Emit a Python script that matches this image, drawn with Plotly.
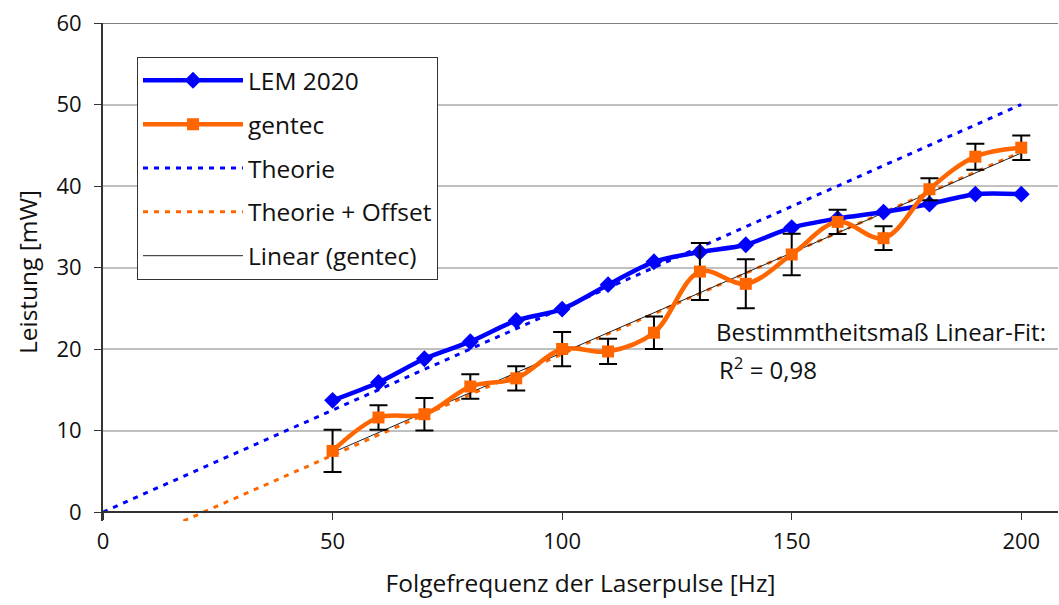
import numpy as np
import plotly.graph_objects as go

# ---- data ----
freq = [50, 60, 70, 80, 90, 100, 110, 120, 130, 140, 150, 160, 170, 180, 190, 200]
lem2020 = [13.7, 15.9, 18.8, 20.9, 23.5, 24.9, 27.9, 30.7, 31.9, 32.8, 34.9, 36.0, 36.8, 37.8, 39.0, 39.0]
gentec = [7.5, 11.6, 12.0, 15.4, 16.4, 20.0, 19.7, 22.0, 29.5, 28.0, 31.6, 35.6, 33.6, 39.6, 43.6, 44.7]
gentec_err = [2.6, 1.5, 2.0, 1.5, 1.5, 2.1, 1.55, 2.0, 3.5, 3.0, 2.55, 1.5, 1.45, 1.35, 1.6, 1.5]

theorie_x = [0, 200]
theorie_y = [0, 50]
offset_x = [17.5, 200]
offset_y = [-1.1, 44.2]

x_ticks = [0, 50, 100, 150, 200]
y_ticks = [0, 10, 20, 30, 40, 50, 60]

# linear trend of gentec
slope, intercept = np.polyfit(freq, gentec, 1)
lin_x = [freq[0], freq[-1]]
lin_y = [slope * v + intercept for v in lin_x]

BLUE = "#0000FF"
ORANGE = "#FF6600"
FONT = "Open Sans"
TXT = 24.5
ANN = 24
TICK = 22

fig = go.Figure()

fig.add_trace(go.Scatter(
    x=theorie_x, y=theorie_y, mode="lines", name="Theorie",
    line=dict(color=BLUE, width=3, dash="5px,6px"),
    legendgroup="c", legendrank=3))
fig.add_trace(go.Scatter(
    x=offset_x, y=offset_y, mode="lines", name="Theorie + Offset",
    line=dict(color=ORANGE, width=3, dash="5px,6px"),
    legendgroup="d", legendrank=4))
fig.add_trace(go.Scatter(
    x=lin_x, y=lin_y, mode="lines", name="Linear (gentec)",
    line=dict(color="#222222", width=1),
    legendgroup="e", legendrank=5))
fig.add_trace(go.Scatter(
    x=freq, y=lem2020, mode="lines+markers", name="LEM 2020",
    line=dict(color=BLUE, width=4.5, shape="spline", smoothing=0.8),
    marker=dict(symbol="diamond", size=13, color=BLUE),
    legendgroup="a", legendrank=1))
fig.add_trace(go.Scatter(
    x=freq, y=gentec, mode="lines+markers", name="gentec",
    line=dict(color=ORANGE, width=4.5, shape="spline", smoothing=1),
    marker=dict(symbol="square", size=12, color=ORANGE),
    error_y=dict(type="data", array=gentec_err, visible=True,
                 color="black", thickness=2, width=9),
    legendgroup="b", legendrank=2))

fig.add_annotation(x=0.64, y=0.38, xref="paper", yref="paper",
                   xanchor="left", yanchor="middle", showarrow=False,
                   text="Bestimmtheitsmaß Linear-Fit:",
                   font=dict(family=FONT, size=ANN, color="#111111"))
fig.add_annotation(x=0.643, y=0.306, xref="paper", yref="paper",
                   xanchor="left", yanchor="middle", showarrow=False,
                   text="R<sup>2</sup> = 0,98",
                   font=dict(family=FONT, size=ANN, color="#111111"))

y0_frac = 1.1 / 61.1

fig.update_layout(
    width=1059, height=605,
    margin=dict(l=103, r=1, t=23, b=84),
    paper_bgcolor="white", plot_bgcolor="white",
    font=dict(family=FONT, size=TXT, color="#111111"),
    showlegend=True,
    legend=dict(
        x=0.0356, y=0.932, xanchor="left", yanchor="top",
        bgcolor="white", bordercolor="#333333", borderwidth=1,
        font=dict(family=FONT, size=TXT, color="#111111"),
        itemwidth=100, tracegroupgap=9, traceorder="grouped",
    ),
    xaxis=dict(
        range=[0, 208], tickvals=x_ticks, showgrid=False, zeroline=False,
        showline=True, linecolor="#333333", linewidth=2,
        ticks="outside", ticklen=7, tickcolor="#333333", tickwidth=1,
        anchor="free", position=y0_frac, ticklabelstandoff=3,
        title=dict(text="Folgefrequenz der Laserpulse [Hz]", standoff=19,
                   font=dict(family=FONT, size=TXT)),
        tickfont=dict(family=FONT, size=TICK),
    ),
    yaxis=dict(
        range=[-1.1, 60], tickvals=y_ticks, showgrid=True,
        gridcolor="#C0C0C0", gridwidth=2, zeroline=False,
        showline=True, linecolor="#333333", linewidth=2,
        ticks="outside", ticklen=7, tickcolor="#333333", tickwidth=1,
        ticklabelstandoff=8,
        title=dict(text="Leistung [mW]", standoff=12,
                   font=dict(family=FONT, size=TXT)),
        tickfont=dict(family=FONT, size=TICK),
    ),
)

fig.add_shape(type="line", xref="paper", yref="y", x0=0, x1=1, y0=60, y1=60,
              line=dict(color="#808080", width=2), layer="below")

fig.write_html("out.html")
